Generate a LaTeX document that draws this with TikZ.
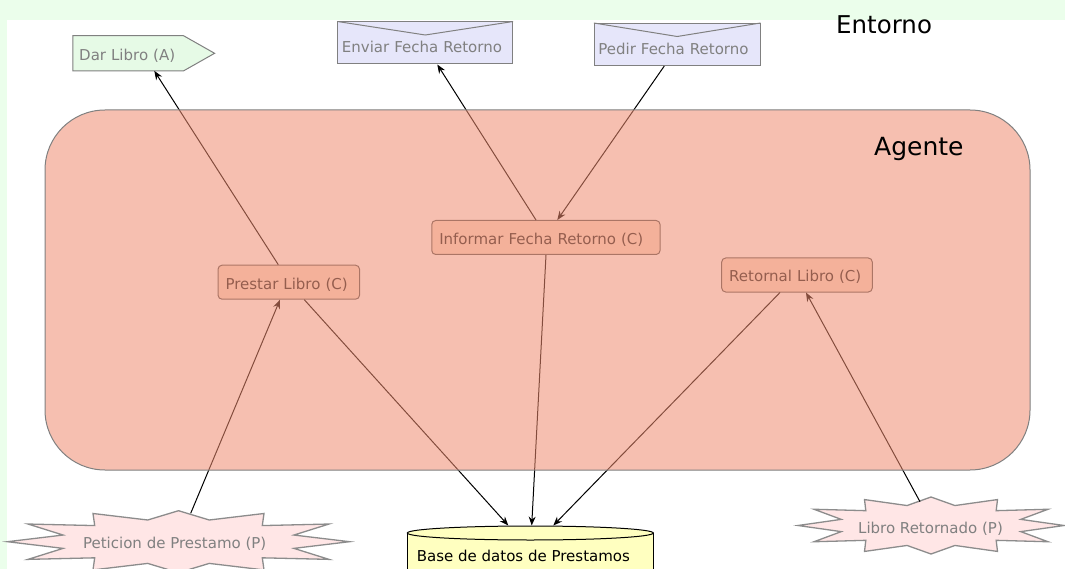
\documentclass[tikz,border=0pt]{standalone}
\usepackage{fontspec}
\setmainfont{DejaVu Sans}
\usetikzlibrary{arrows.meta,backgrounds}

\definecolor{envgreen}{RGB}{235,254,235}
\definecolor{actgreen}{RGB}{230,250,230}
\definecolor{msgblue}{RGB}{230,230,250}
\definecolor{perpink}{RGB}{255,230,230}
\definecolor{dbyellow}{RGB}{255,255,192}
\definecolor{agentred}{RGB}{240,140,112}
\definecolor{capfill}{RGB}{251,224,207}
\definecolor{bordergray}{RGB}{128,128,128}

\tikzset{
  burst/.pic={
    \draw[draw=black!45, line width=1.3pt, fill=perpink, line join=miter]
      (-1,0) -- (-0.675,-0.215) -- (-0.88,-0.57) -- (-0.49,-0.52) -- (-0.5,-0.91)
      -- (-0.18,-0.7) -- (0,-1) -- (0.18,-0.7) -- (0.5,-0.91) -- (0.49,-0.52)
      -- (0.88,-0.57) -- (0.675,-0.215) -- (1,0) -- (0.675,0.215) -- (0.88,0.57)
      -- (0.49,0.52) -- (0.5,0.91) -- (0.18,0.7) -- (0,1) -- (-0.18,0.7)
      -- (-0.5,0.91) -- (-0.49,0.52) -- (-0.88,0.57) -- (-0.675,0.215) -- cycle;
  }
}

\begin{document}
\begin{tikzpicture}[x=1pt,y=-1pt,
  every node/.style={font=\fontsize{15}{18}\selectfont, inner ysep=0pt},
  flow/.style={draw=black, line width=1pt, -{Stealth[length=9pt,width=7pt,inset=3pt]}},
  capbox/.style={draw=black!65, fill=capfill, rounded corners=4pt, line width=1pt,
    text=black!85, text height=24pt, text depth=10pt, inner xsep=7.5pt, align=left},
  actbox/.style={text=black!50, text width=98pt, inner xsep=6.2pt,
    text height=24.7pt, text depth=10pt, align=left},
  msgbox/.style={draw=bordergray, fill=msgblue, line width=1pt, text=black!50,
    inner xsep=4pt, text height=31pt, text depth=11pt, align=left},
  startext/.style={text=black!50, text height=11pt, text depth=0pt, inner sep=0pt},
  title/.style={text=black, anchor=base west, inner sep=0pt}
]
\useasboundingbox (0,0) rectangle (1065,569);
\clip (0,0) rectangle (1065,569);

% environment frame
\begin{scope}[on background layer]
  \fill[envgreen] (0,0) rectangle (1065,569);
  \fill[white] (7,20) rectangle (1065,569);
\end{scope}

\node[title, font=\fontsize{24.5}{29}\selectfont] (entorno) at (836,33.3) {Entorno};

% action
\node[actbox] (dar) at (128.2,53.3) {Dar Libro (A)};
\begin{scope}[on background layer]
  \draw[draw=bordergray, fill=actgreen, line width=1pt]
    (dar.north west) -- (dar.north east) -- ([shift={(31,0)}]dar.east)
    -- (dar.south east) -- (dar.south west) -- cycle;
\end{scope}

% messages
\node[msgbox, text width=166.7pt] (enviar) at (425.3,43) {Enviar Fecha Retorno};
\draw[bordergray, line width=1pt] (enviar.north west) -- ([shift={(0,13.5)}]enviar.north) -- (enviar.north east);
\node[msgbox, text width=157.7pt] (pedir) at (677.2,44.5) {Pedir Fecha Retorno};
\draw[bordergray, line width=1pt] (pedir.north west) -- ([shift={(0,13.5)}]pedir.north) -- (pedir.north east);

% perceptions
\pic[xscale=171, yscale=31] at (178.5,541.7) {burst};
\node[startext] (peticion) at (174.7,542.5) {Peticion de Prestamo (P)};
\pic[xscale=133, yscale=28.5] at (931,525.5) {burst};
\node[startext] (retornado) at (930.5,527.8) {Libro Retornado (P)};

% database
\fill[dbyellow] (407.3,533) rectangle (653.3,575);
\draw[line width=1pt] (407.3,533) -- (407.3,575) (653.3,533) -- (653.3,575);
\draw[fill=dbyellow, line width=1pt] (530.3,533) ellipse [x radius=123pt, y radius=7pt];
\node[title] (bd) at (416.7,561.7) {Base de datos de Prestamos};
\coordinate (bdtop) at (530.3,525.5);

% capabilities
\node[capbox, text width=126.5pt] (prestar) at (288.8,282.2) {Prestar Libro (C)};
\node[capbox, text width=213.3pt] (informar) at (545.9,237.5) {Informar Fecha Retorno (C)};
\node[capbox, text width=135.6pt] (retornal) at (797,275) {Retornal Libro (C)};

% connectors
\draw[flow] ([shift={(-10.5,0)}]prestar.north) -- ([shift={(26.1,0)}]dar.south);
\draw[flow] ([shift={(-9.9,0)}]informar.north) -- ([shift={(12,0)}]enviar.south);
\draw[flow] ([shift={(-12.9,0)}]pedir.south) -- ([shift={(11.4,0)}]informar.north);
\draw[flow] ([shift={(16,-29.2)}]peticion.center) -- ([shift={(-8.8,0)}]prestar.south);
\draw[flow] ([shift={(15.5,0)}]prestar.south) -- ([shift={(-22,0)}]bdtop);
\draw[flow] ([shift={(0.1,0)}]informar.south) -- ([shift={(1.4,0)}]bdtop);
\draw[flow] ([shift={(-17,0)}]retornal.south) -- ([shift={(23,0)}]bdtop);
\draw[flow] ([shift={(-10.5,-26.1)}]retornado.center) -- ([shift={(9,0)}]retornal.south);

% agent boundary, tinted over its contents
\fill[agentred, fill opacity=0.55, rounded corners=60pt] (45,110) rectangle (1030,470);
\draw[bordergray, line width=1pt, rounded corners=60pt] (45,110) rectangle (1030,470);
\node[title, font=\fontsize{25}{30}\selectfont] (agente) at (874,155.7) {Agente};
\end{tikzpicture}
\end{document}
